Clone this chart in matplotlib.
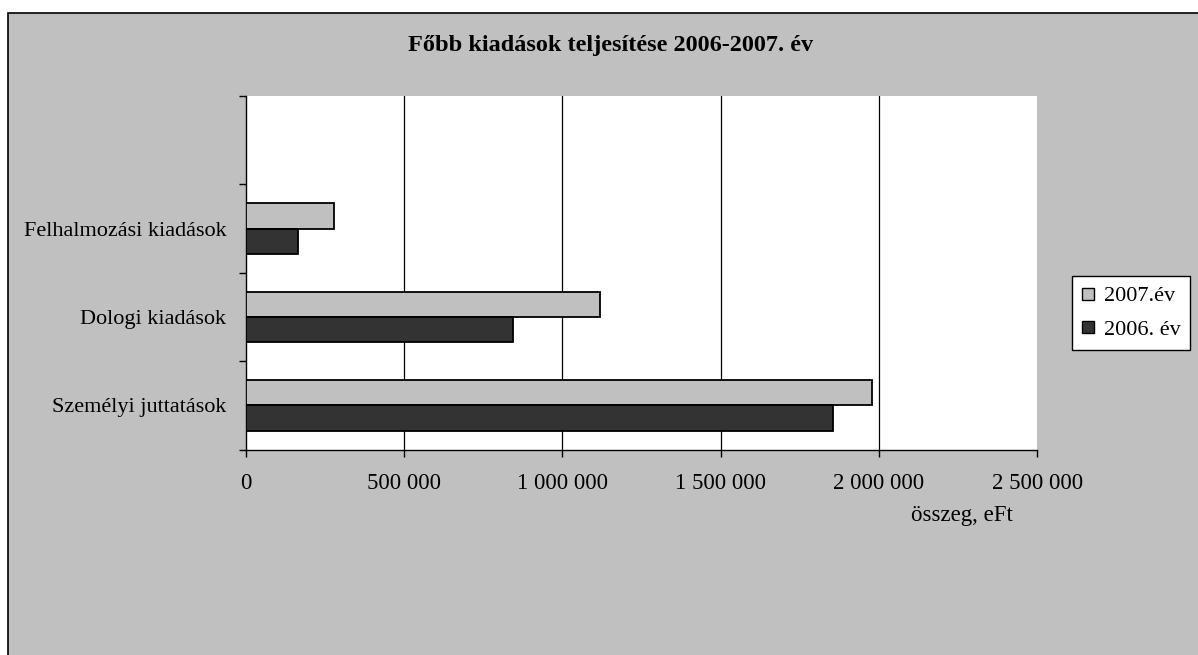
import matplotlib
matplotlib.use("Agg")
import matplotlib.pyplot as plt
from matplotlib.patches import Rectangle
from matplotlib.lines import Line2D
from matplotlib.ticker import FuncFormatter, FixedLocator
import numpy as np

plt.rcParams['font.family'] = ['Liberation Serif', 'DejaVu Serif']

categories = ["Személyi juttatások", "Dologi kiadások", "Felhalmozási kiadások"]
values_2007 = [1977000, 1120000, 278000]
values_2006 = [1856000, 843000, 165000]
series_labels = ["2007.év", "2006. év"]
title = "Főbb kiadások teljesítése 2006-2007. év"
xlabel = "összeg, eFt"
xticks = [0, 500000, 1000000, 1500000, 2000000, 2500000]

W, H = 1198, 655
fig = plt.figure(figsize=(W / 100, H / 100), dpi=100)
fig.patch.set_facecolor("white")

# gray chart area with black border
bg = Rectangle((8 / W, -0.1), 1.2, (1 - 13 / H) + 0.1, transform=fig.transFigure,
               facecolor="#C0C0C0", edgecolor="black", linewidth=1.2, zorder=-5)
fig.patches.append(bg)

left, right = 245.7 / W, 1037.3 / W
top, bottom = 1 - 96 / H, 1 - 449.5 / H
ax = fig.add_axes([left, bottom, right - left, top - bottom])
ax.set_zorder(2)
ax.set_facecolor("white")

y = np.arange(len(categories))
h = 0.2857
ax.barh(y + h / 2, values_2007, height=h, color="#C0C0C0", edgecolor="black",
        linewidth=1.3, zorder=3)
ax.barh(y - h / 2, values_2006, height=h, color="#333333", edgecolor="black",
        linewidth=1.3, zorder=3)

ax.set_xlim(0, 2500000)
ax.set_ylim(-0.5, 3.5)

ax.xaxis.set_major_locator(FixedLocator(xticks))
ax.xaxis.set_major_formatter(FuncFormatter(lambda v, p: f"{int(v):,}".replace(",", " ")))
for xv in xticks[1:-1]:
    ax.axvline(xv, color="black", linewidth=0.9, zorder=1)

ax.set_yticks(y)
ax.set_yticklabels(categories)
ax.set_yticks(np.arange(-0.5, 3.6, 1.0), minor=True)
ax.tick_params(axis="y", which="major", length=0, pad=14, labelsize=16)
ax.tick_params(axis="y", which="minor", length=5, width=1, direction="out")
ax.tick_params(axis="x", length=5, width=1, direction="out", pad=12, labelsize=16.5)

for s in ["top", "right"]:
    ax.spines[s].set_visible(False)
for s in ["left", "bottom"]:
    ax.spines[s].set_linewidth(1.0)
    ax.spines[s].set_color("black")

fig.text(611 / W, 1 - 45 / H, title, ha="center", va="center",
         fontsize=17.5, fontweight="bold", zorder=3)
fig.text(962 / W, 1 - 516 / H, xlabel, ha="center", va="center", fontsize=16.5, zorder=3)

handles = [Line2D([], [], marker="s", linestyle="none", markersize=8,
                  markerfacecolor="#C0C0C0", markeredgecolor="black", markeredgewidth=1),
           Line2D([], [], marker="s", linestyle="none", markersize=8,
                  markerfacecolor="#333333", markeredgecolor="black", markeredgewidth=1)]
leg = fig.legend(handles, series_labels, loc="center",
                 bbox_to_anchor=((1073 + 1189) / 2 / W, 1 - 313 / H),
                 fontsize=16, frameon=True, fancybox=False, edgecolor="black",
                 framealpha=1, handlelength=0.6, handletextpad=0.4, labelspacing=0.6,
                 borderpad=0.45, borderaxespad=0)
leg.get_frame().set_linewidth(1.0)
leg.get_frame().set_facecolor("white")
leg.set_zorder(4)

fig.savefig("out.png", dpi=100, facecolor=fig.get_facecolor())
